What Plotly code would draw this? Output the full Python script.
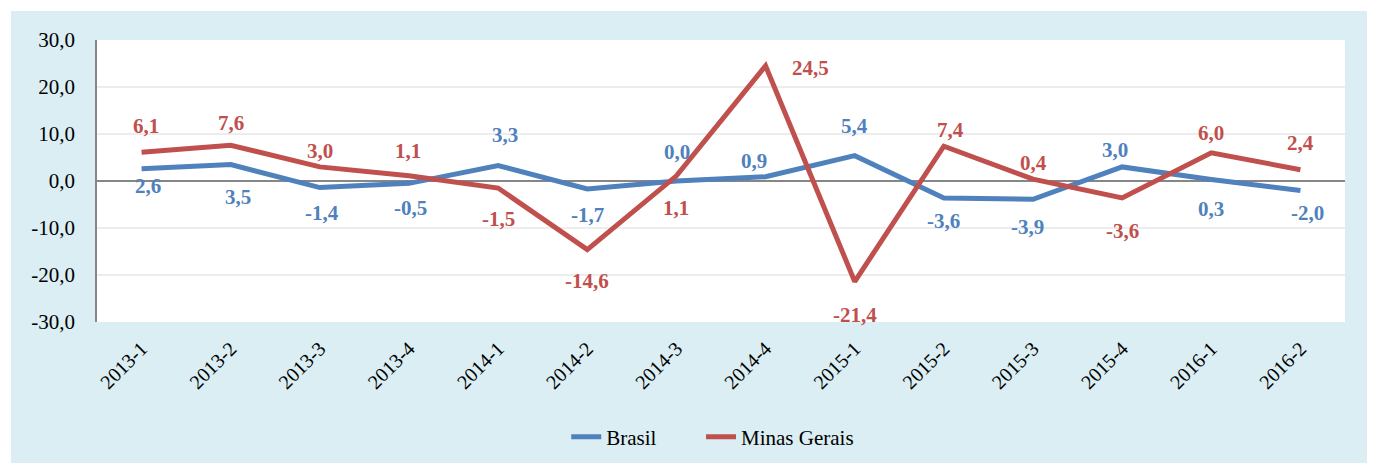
import plotly.graph_objects as go

categories = ["2013-1", "2013-2", "2013-3", "2013-4", "2014-1", "2014-2", "2014-3",
              "2014-4", "2015-1", "2015-2", "2015-3", "2015-4", "2016-1", "2016-2"]
brasil = [2.6, 3.5, -1.4, -0.5, 3.3, -1.7, 0.0, 0.9, 5.4, -3.6, -3.9, 3.0, 0.3, -2.0]
minas = [6.1, 7.6, 3.0, 1.1, -1.5, -14.6, 1.1, 24.5, -21.4, 7.4, 0.4, -3.6, 6.0, 2.4]
# label text for Minas Gerais as printed on the chart
minas_labels = ["6,1", "7,6", "3,0", "1,1", "-1,5", "-14,6", "1,1", "24,5", "-21,4",
                "7,4", "0,4", "-3,6", "6,0", "2,4"]
y_ticks = [-30, -20, -10, 0, 10, 20, 30]

# label offsets (pixels, style only)
brasil_dx = [6, 7, 2, 1, 7, 0, 1, -12, 0, 0, -6, -7, 0, 7]
brasil_dy = [17, 32, 25, 25, -30, 26, -29, -16, -30, 23, 28, -17, 29, 23]
minas_dx = [4, 0, 0, -1, 0, 0, 0, 45, 0, 7, 0, 0, 0, 0]
minas_dy = [-26, -22, -16, -25, 31, 31, 32, 2, 33, -16, -16, 33, -20, -27]

BLUE = "#4F81BD"
RED = "#C0504D"
BG = "#DAEEF3"
FONT = "'Liberation Serif', 'Times New Roman', Times, serif"

fig = go.Figure()
fig.add_trace(go.Scatter(x=categories, y=brasil, mode="lines", name="Brasil",
                         line=dict(color=BLUE, width=5), legend="legend"))
fig.add_trace(go.Scatter(x=categories, y=minas, mode="lines", name="Minas Gerais",
                         line=dict(color=RED, width=5), legend="legend2"))

def fmt(v):
    return f"{v:.1f}".replace(".", ",")

ann = []
for c, v, dx, dy in zip(categories, brasil, brasil_dx, brasil_dy):
    ann.append(dict(x=c, y=v, xref="x", yref="y", text=fmt(v), showarrow=False,
                    xshift=dx, yshift=-dy,
                    font=dict(family=FONT, size=21, color=BLUE, weight="bold")))
for c, v, t, dx, dy in zip(categories, minas, minas_labels, minas_dx, minas_dy):
    ann.append(dict(x=c, y=v, xref="x", yref="y", text=t, showarrow=False,
                    xshift=dx, yshift=-dy,
                    font=dict(family=FONT, size=21, color=RED, weight="bold")))

shapes = [
    dict(type="rect", xref="paper", yref="paper", x0=-0.0689, x1=1.03, y0=-0.6, y1=1.103,
         fillcolor=BG, line=dict(width=0), layer="below"),
    dict(type="rect", xref="x domain", yref="y domain", x0=0, x1=1, y0=0, y1=1,
         fillcolor="white", line=dict(width=0), layer="below"),
]

leg_common = dict(orientation="h", xanchor="left", yref="container", y=0.057,
                  yanchor="middle", font=dict(family=FONT, size=21, color="black"),
                  bgcolor="rgba(0,0,0,0)")

# page body has an 8px margin; figure sized so that the plot area lands where the reference has it
fig.update_layout(
    width=1367, height=455,
    margin=dict(l=89, r=30, t=32, b=141),
    paper_bgcolor="white", plot_bgcolor="white",
    font=dict(family=FONT, size=21, color="black"),
    showlegend=True,
    legend=dict(x=0.376, **leg_common),
    legend2=dict(x=0.484, **leg_common),
    annotations=ann,
    shapes=shapes,
)
fig.update_xaxes(type="category", tickangle=-45, showgrid=False, showline=False,
                 ticks="", tickfont=dict(family=FONT, size=20), ticklabelstandoff=10,
                 automargin=False, range=[-0.5, len(categories) - 0.5])
fig.update_yaxes(range=[-30, 30], tickvals=y_ticks,
                 ticktext=[fmt(v) for v in y_ticks], automargin=False,
                 showgrid=True, gridcolor="#EDEDED", gridwidth=1.5,
                 zeroline=True, zerolinecolor="#868686", zerolinewidth=1.5,
                 showline=True, linecolor="#868686", linewidth=1.5,
                 ticks="", tickfont=dict(family=FONT, size=21), ticklabelstandoff=16)

fig.write_html("out.html")
